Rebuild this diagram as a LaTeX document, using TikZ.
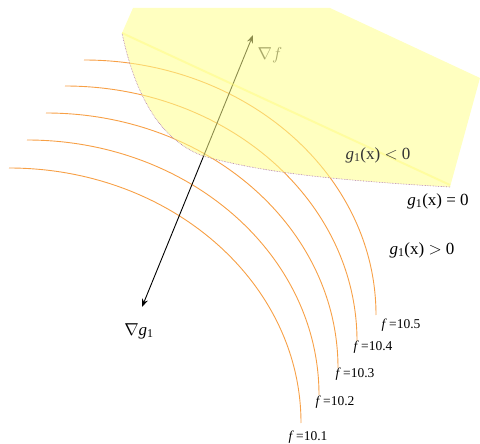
\documentclass[tikz,border=0pt]{standalone}
\usepackage{fontspec}
\setmainfont{Liberation Serif}
\usetikzlibrary{arrows.meta}
\definecolor{curveorange}{RGB}{247,160,70}
\definecolor{feasyellow}{RGB}{255,255,140}
\definecolor{brightyellow}{RGB}{255,250,120}
\definecolor{bounddot}{RGB}{170,110,170}
\tikzset{
  levelcurve/.style={draw=curveorange, line width=0.9pt},
  flabel/.style={font=\fontsize{13.5}{13.5}\selectfont, inner sep=0pt},
  glabel/.style={font=\fontsize{17}{17}\selectfont, inner sep=0pt},
  gradarrow/.style={line width=0.9pt, {Stealth[length=8pt,width=6pt]}-{Stealth[length=8pt,width=6pt]}},
}
\begin{document}
\begin{tikzpicture}[x=1pt,y=-1pt]
\useasboundingbox (0,0) rectangle (480,444);
% level curves
\foreach \sx/\sy/\nm in {84/60/a, 65/86/b, 46/113/c, 27/140/d, 9/168/e}{
  \draw[levelcurve] (\sx,\sy) coordinate (s\nm) arc[start angle=-90, end angle=0, x radius=292, y radius=255] coordinate (e\nm);
}
\node[flabel] (fa) at (401,325) {\textit{f}\,=10.5};
\node[flabel] (fb) at (373,347) {\textit{f}\,=10.4};
\node[flabel] (fc) at (355,374) {\textit{f}\,=10.3};
\node[flabel] (fd) at (335,402) {\textit{f}\,=10.2};
\node[flabel] (fe) at (308,437) {\textit{f}\,=10.1};
% gradients
\coordinate (gf) at (253,35);
\coordinate (gg) at (142,307);
\draw[gradarrow] (gg) -- (gf);
\node[glabel, text=black!75] (nf) at (270,55) {$\nabla f$};
\node[glabel] (ng) at (139,331) {$\nabla$\textit{g}\textsubscript{1}};
% feasible region overlay
\fill[feasyellow, fill opacity=0.55]
  (122,33) -- (133,8) -- (330,8) -- (480,78) -- (450,187)
  .. controls (330,180) and (260,172) .. (203,156)
  .. controls (160,140) and (135,95) .. (122,33) -- cycle;
\draw[brightyellow, line width=2pt, opacity=0.45] (122,33) -- (450,185);
\draw[bounddot, densely dotted, line width=0.6pt]
  (450,187) .. controls (330,180) and (260,172) .. (203,156)
  .. controls (160,140) and (135,95) .. (122,33);
\node[glabel, text=black!80] (gl) at (378,155) {\textit{g}\textsubscript{1}(x) $<$ 0};
\node[glabel] (ge) at (438,201) {\textit{g}\textsubscript{1}(x) = 0};
\node[glabel] (gr) at (422,250) {\textit{g}\textsubscript{1}(x) $>$ 0};
\end{tikzpicture}
\end{document}
